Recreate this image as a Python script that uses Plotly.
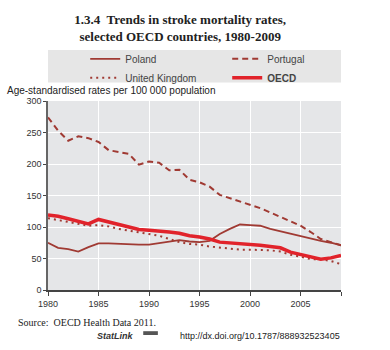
import plotly.graph_objects as go

years = list(range(1980, 2010))

poland = [75, 67, 65, 61, 68, 74, 74, 73, 72, 72,
          72, 74, 77, 79, 77, 76, 78, 89, 97, 104,
          103, 102, 97, 93, 89, 85, 81, 78, 75, 71]
portugal = [274, 253, 237, 244, 241, 235, 222, 219, 216, 199,
            204, 202, 190, 191, 175, 171, 164, 151, 146, 140,
            135, 130, 123, 116, 109, 102, 92, 81, 76, 71]
uk = [114, 111, 109, 106, 102, 103, 101, 97, 94, 91,
      88, 86, 81, 76, 73, 72, 69, 67, 65, 64,
      64, 64, 63, 61, 56, 53, 49, 49, 46, 41]
oecd = [119, 117, 113, 109, 105, 112, 108, 104, 100, 96,
        95, 94, 92, 90, 86, 84, 81, 76, 75, 74,
        73, 71, 69, 67, 60, 56, 52, 49, 51, 55]

x_tickvals = [1980, 1985, 1990, 1995, 2000, 2005, 2009]
x_ticktext = ["1980", "1985", "1990", "1995", "2000", "2005", ""]
y_tickvals = [0, 50, 100, 150, 200, 250, 300]

DARK = "#a03a33"
RED = "#e1232b"
BG = "#e5e6e8"

fig = go.Figure()
fig.add_trace(go.Scatter(x=years, y=poland, name="Poland", mode="lines",
                         line=dict(color=DARK, width=1.8)))
fig.add_trace(go.Scatter(x=years, y=portugal, name="Portugal", mode="lines",
                         line=dict(color=DARK, width=2, dash="6px,4px")))
fig.add_trace(go.Scatter(x=years, y=uk, name="United Kingdom", mode="lines",
                         line=dict(color=DARK, width=2, dash="2px,4px")))
fig.add_trace(go.Scatter(x=years, y=oecd, name="<b>OECD</b>", mode="lines",
                         line=dict(color=RED, width=3.5)))

fig.update_layout(
    width=390, height=350,
    margin=dict(l=48, r=49, t=101, b=60),
    paper_bgcolor="white",
    plot_bgcolor=BG,
    font=dict(family="Liberation Sans, Arial, sans-serif", size=9, color="#333"),
    title=dict(
        text="1.3.4  Trends in stroke mortality rates,<br>selected OECD countries, 1980-2009",
        font=dict(family="Liberation Serif, serif", size=13, color="#222", weight="bold"),
        x=0.462, xref="container", xanchor="center",
        y=1 - 24 / 350, yref="container", yanchor="top",
    ),
    showlegend=True,
    legend=dict(
        orientation="h", x=0.127, xanchor="left", y=1.30, yanchor="top",
        bgcolor="rgba(0,0,0,0)", entrywidth=97, entrywidthmode="pixels",
        font=dict(size=10, color="#444"), traceorder="normal",
    ),
    xaxis=dict(
        range=[1980, 2009], tickvals=x_tickvals, ticktext=x_ticktext,
        showgrid=True, gridcolor="white", gridwidth=1.2,
        showline=True, linecolor="#444", linewidth=1.5,
        ticks="outside", ticklen=4, tickcolor="#444", zeroline=False,
        tickfont=dict(size=9, color="#333"), fixedrange=True,
    ),
    yaxis=dict(
        range=[0, 300], tickvals=y_tickvals,
        showgrid=True, gridcolor="white", gridwidth=1.2,
        showline=True, linecolor="#666", linewidth=1.5,
        ticks="outside", ticklen=3, tickcolor="#444", zeroline=False,
        tickfont=dict(size=9, color="#333"), fixedrange=True,
    ),
    shapes=[
        dict(type="rect", xref="paper", yref="paper", x0=0, x1=1,
             y0=1.098, y1=1.27, fillcolor="#e6e6e6", line=dict(width=0), layer="below"),
        dict(type="rect", xref="paper", yref="paper", x0=0.325, x1=0.375,
             y0=-0.238, y1=-0.218, fillcolor="#555", line=dict(width=0)),
    ],
    annotations=[
        dict(text="Age-standardised rates per 100 000 population", xref="paper", yref="paper",
             x=-0.147, y=1.057, xanchor="left", yanchor="middle", showarrow=False,
             font=dict(size=10, color="#222")),
        dict(text="Source:  OECD Health Data 2011.", xref="paper", yref="paper",
             x=-0.109, y=-0.172, xanchor="left", yanchor="middle", showarrow=False,
             font=dict(family="Liberation Serif, serif", size=10, color="#222")),
        dict(text="<b><i>StatLink</i></b>", xref="paper", yref="paper",
             x=0.16, y=-0.243, xanchor="left", yanchor="middle", showarrow=False,
             font=dict(family="Liberation Sans, Arial, sans-serif", size=9, color="#333")),
        dict(text="http://dx.doi.org/10.1787/888932523405", xref="paper", yref="paper",
             x=1.005, y=-0.243, xanchor="right", yanchor="middle", showarrow=False,
             font=dict(size=9, color="#222")),
    ],
)

fig.write_html("out.html")
